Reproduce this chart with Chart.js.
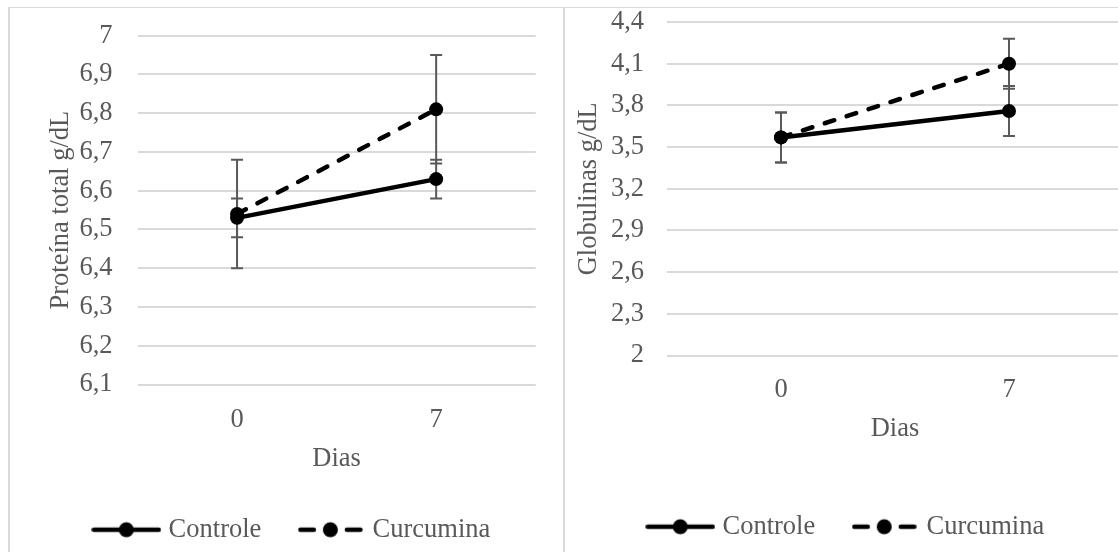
<!DOCTYPE html>
<html>
<head>
<meta charset="utf-8">
<script src="https://cdn.jsdelivr.net/npm/chart.js@4.4.1/dist/chart.umd.min.js"></script>
<style>
  html, body { margin: 0; padding: 0; background: #ffffff; }
  body { width: 1118px; height: 552px; overflow: hidden; position: relative; }
  .line { position: absolute; background: #d9d9d9; }
  #wrapL { position: absolute; left: 10px; top: 8px; width: 553px; height: 547px; }
  #wrapR { position: absolute; left: 565px; top: 8px; width: 570px; height: 546px; }
</style>
</head>
<body>
<div class="line" style="left:9px;top:7px;width:1109px;height:1px;"></div>
<div class="line" style="left:8px;top:7px;width:2px;height:545px;"></div>
<div class="line" style="left:563px;top:7px;width:2px;height:545px;"></div>
<div id="wrapL"><canvas id="cL"></canvas></div>
<div id="wrapR"><canvas id="cR"></canvas></div>
<script>
// ---------- data ----------
const days = ['0', '7'];
const seriesNames = ['Controle', 'Curcumina'];

const protControle = [6.53, 6.63];
const protCurcumina = [6.54, 6.81];
const protErrControle = [0.05, 0.05];
const protErrCurcumina = [0.14, 0.14];
const protTicks = [6.1, 6.2, 6.3, 6.4, 6.5, 6.6, 6.7, 6.8, 6.9, 7.0];
const protTickLabels = ['6,1', '6,2', '6,3', '6,4', '6,5', '6,6', '6,7', '6,8', '6,9', '7'];

const globControle = [3.57, 3.76];
const globCurcumina = [3.57, 4.10];
const globErrControle = [0.18, 0.18];
const globErrCurcumina = [0.18, 0.18];
const globTicks = [2.0, 2.3, 2.6, 2.9, 3.2, 3.5, 3.8, 4.1, 4.4];
const globTickLabels = ['2', '2,3', '2,6', '2,9', '3,2', '3,5', '3,8', '4,1', '4,4'];

// ---------- styles ----------
const FONT = 'Liberation Serif, Times New Roman, serif';
const FS = 26.5;
const TXT = '#595959';
const GRID = '#d9d9d9';

function makeLegendImg(dashed) {
  const c = document.createElement('canvas');
  const w = dashed ? 65 : 70, h = 18;
  c.width = w; c.height = h;
  const g = c.getContext('2d');
  g.strokeStyle = '#000'; g.fillStyle = '#000';
  g.lineWidth = 4.5; g.lineCap = 'round';
  const cy = h / 2;
  if (!dashed) {
    g.beginPath(); g.moveTo(2.5, cy); g.lineTo(w - 2.5, cy); g.stroke();
  } else {
    g.beginPath(); g.moveTo(2.5, cy); g.lineTo(16, cy); g.stroke();
    g.beginPath(); g.moveTo(49, cy); g.lineTo(w - 2.5, cy); g.stroke();
  }
  g.beginPath(); g.arc(w / 2, cy, 7.5, 0, Math.PI * 2); g.fill();
  return c;
}
const legendImgs = [makeLegendImg(false), makeLegendImg(true)];

const errorBars = {
  id: 'errorBars',
  beforeDatasetsDraw(chart) {
    const ctx = chart.ctx;
    const ys = chart.scales.y;
    ctx.save();
    ctx.strokeStyle = TXT;
    ctx.lineWidth = 2;
    chart.data.datasets.forEach((ds, i) => {
      const meta = chart.getDatasetMeta(i);
      ds.data.forEach((v, j) => {
        const e = ds.errors[j];
        const x = meta.data[j].x;
        const yt = ys.getPixelForValue(v + e);
        const yb = ys.getPixelForValue(v - e);
        ctx.beginPath();
        ctx.moveTo(x, yt); ctx.lineTo(x, yb);
        ctx.moveTo(x - 6, yt); ctx.lineTo(x + 6, yt);
        ctx.moveTo(x - 6, yb); ctx.lineTo(x + 6, yb);
        ctx.stroke();
      });
    });
    ctx.restore();
  }
};

function makeChart(id, cfg) {
  const datasets = [
    { label: seriesNames[0], data: cfg.controle, errors: cfg.errControle,
      borderColor: '#000', backgroundColor: '#000', borderWidth: 4.5,
      pointRadius: 7, pointHoverRadius: 7, pointBorderWidth: 0, pointBackgroundColor: '#000',
      tension: 0, borderCapStyle: 'round' },
    { label: seriesNames[1], data: cfg.curcumina, errors: cfg.errCurcumina,
      borderColor: '#000', backgroundColor: '#000', borderWidth: 4.5, borderDash: [10, 13],
      pointRadius: 7, pointHoverRadius: 7, pointBorderWidth: 0, pointBackgroundColor: '#000',
      tension: 0, borderCapStyle: 'round' }
  ];
  return new Chart(document.getElementById(id), {
    type: 'line',
    data: { labels: days, datasets },
    plugins: [errorBars],
    options: {
      responsive: true,
      maintainAspectRatio: false,
      animation: false,
      events: [],
      layout: { padding: cfg.pad },
      plugins: {
        tooltip: { enabled: false },
        legend: {
          position: 'bottom',
          labels: {
            usePointStyle: true,
            pointStyleWidth: 58,
            padding: 40,
            color: TXT,
            font: { family: FONT, size: FS },
            generateLabels: () => seriesNames.map((n, i) => ({
              text: n, pointStyle: legendImgs[i], fillStyle: '#000', strokeStyle: '#000',
              lineWidth: 0, hidden: false, datasetIndex: i, fontColor: TXT
            }))
          }
        }
      },
      scales: {
        x: {
          type: 'category',
          offset: true,
          grid: { display: false, drawTicks: false },
          border: { display: false },
          ticks: { color: TXT, padding: cfg.xTickPad, font: { family: FONT, size: FS } },
          title: { display: true, text: 'Dias', color: TXT,
                   font: { family: FONT, size: FS, lineHeight: 1.2 },
                   padding: { top: 0, bottom: cfg.xTitlePb } },
          afterFit: (s) => { s.height = cfg.xH; }
        },
        y: {
          min: cfg.ticks[0],
          max: cfg.ticks[cfg.ticks.length - 1],
          grid: { color: GRID, lineWidth: 2, drawTicks: false },
          border: { display: false },
          afterBuildTicks: (s) => { s.ticks = cfg.ticks.map(v => ({ value: v })); },
          ticks: { color: TXT, padding: cfg.yTickPad, font: { family: FONT, size: FS },
                   callback: (v, i) => cfg.tickLabels[i] },
          title: { display: true, text: cfg.yTitle, color: TXT,
                   font: { family: FONT, size: FS, lineHeight: 0.5 },
                   padding: { top: cfg.yTitlePt, bottom: 0 } },
          afterFit: (s) => { s.width = cfg.yW; s.paddingTop = 0; s.paddingBottom = 0; }
        }
      }
    }
  });
}

makeChart('cL', {
  controle: protControle, curcumina: protCurcumina,
  errControle: protErrControle, errCurcumina: protErrCurcumina,
  ticks: protTicks, tickLabels: protTickLabels,
  yTitle: 'Proteína total g/dL',
  pad: { left: 42, right: 27.3, top: 27.7, bottom: 2 },
  yW: 85.5, yTickPad: 25, yTitlePt: 2.1,
  xH: 92, xTitlePb: 1.4, xTickPad: 20
});

makeChart('cR', {
  controle: globControle, curcumina: globCurcumina,
  errControle: globErrControle, errCurcumina: globErrCurcumina,
  ticks: globTicks, tickLabels: globTickLabels,
  yTitle: 'Globulinas g/dL',
  pad: { left: 7.5, right: 12, top: 14.1, bottom: 4 },
  yW: 94.5, yTickPad: 23, yTitlePt: 9.5,
  xH: 118, xTitlePb: 28.4, xTickPad: 18.5
});
</script>
</body>
</html>
